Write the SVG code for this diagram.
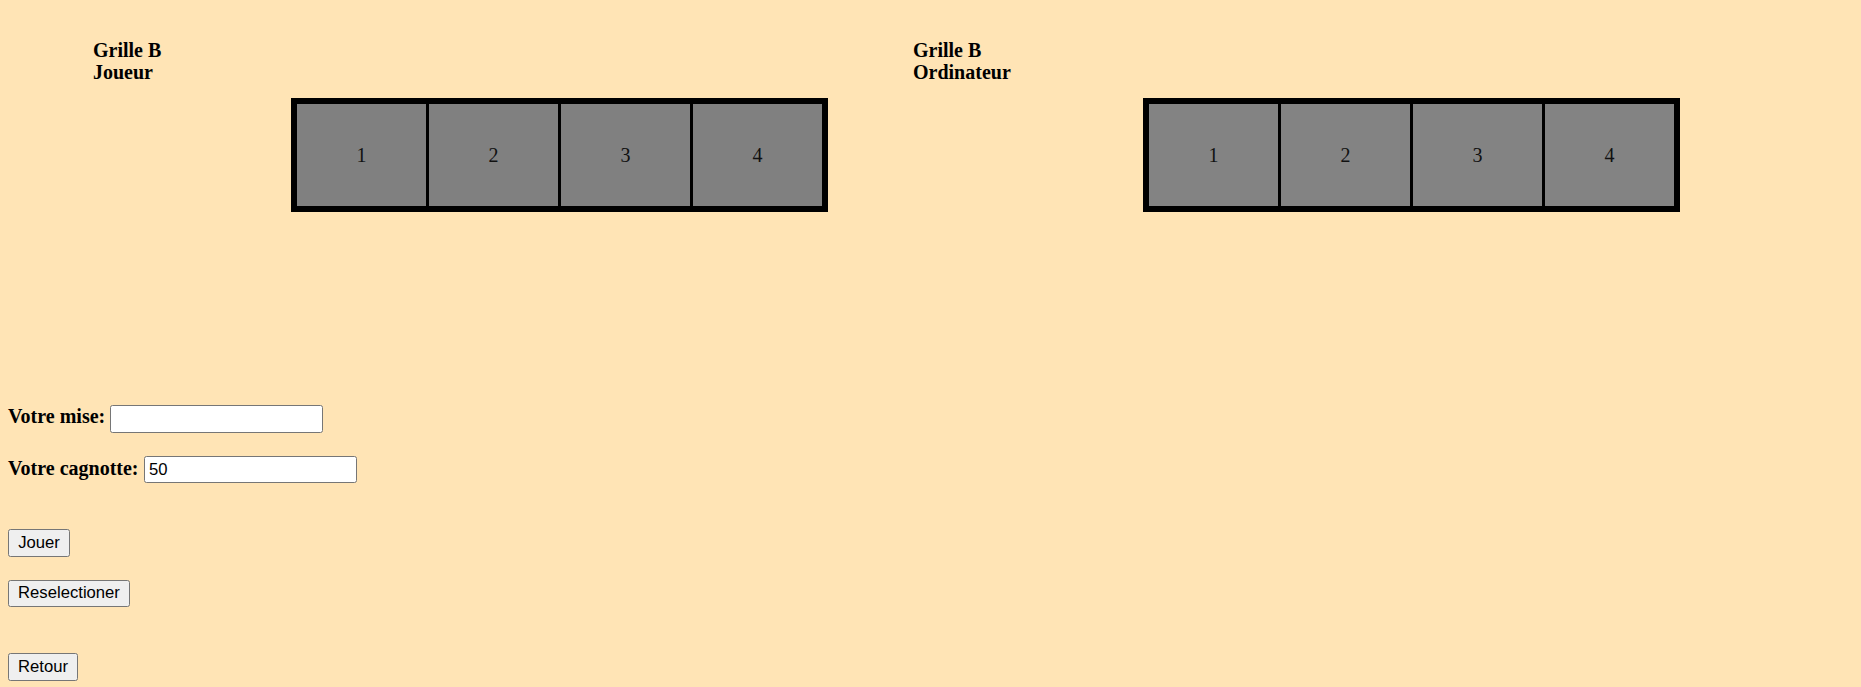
<svg xmlns="http://www.w3.org/2000/svg" width="1861" height="687" viewBox="0 0 1861 687">
<style>
.bg{fill:#FFE4B5}
.hdr{font-family:"Liberation Serif","Times New Roman",serif;font-weight:bold;font-size:20px;fill:#000}
.num{font-family:"Liberation Serif","Times New Roman",serif;font-size:20px;fill:#111;text-anchor:middle}
.frame{fill:#000}
.cell{fill:#808080}
.cellR{fill:#838383}
.inp{fill:#fff;stroke:#767676;stroke-width:1}
.btn{fill:#efefef;stroke:#767676;stroke-width:1}
.ui{font-family:"Liberation Sans",Arial,sans-serif;font-size:16.67px;fill:#000}
.bt{text-anchor:middle}
</style>
<rect class="bg" x="0" y="0" width="1861" height="687"/>

<g id="header-left">
<text class="hdr" x="93" y="57">Grille B</text>
<text class="hdr" x="93" y="79">Joueur</text>
</g>
<g id="header-right">
<text class="hdr" x="913" y="57">Grille B</text>
<text class="hdr" x="913" y="79">Ordinateur</text>
</g>

<g id="grid-joueur">
<rect class="frame" x="291" y="98" width="537" height="114"/>
<rect class="cell" x="297" y="104" width="129" height="102"/>
<rect class="cell" x="429" y="104" width="129" height="102"/>
<rect class="cell" x="561" y="104" width="129" height="102"/>
<rect class="cell" x="693" y="104" width="129" height="102"/>
<text class="num" x="361.5" y="161.5">1</text>
<text class="num" x="493.5" y="161.5">2</text>
<text class="num" x="625.5" y="161.5">3</text>
<text class="num" x="757.5" y="161.5">4</text>
</g>

<g id="grid-ordinateur">
<rect class="frame" x="1143" y="98" width="537" height="114"/>
<rect class="cellR" x="1149" y="104" width="129" height="102"/>
<rect class="cellR" x="1281" y="104" width="129" height="102"/>
<rect class="cellR" x="1413" y="104" width="129" height="102"/>
<rect class="cellR" x="1545" y="104" width="129" height="102"/>
<text class="num" x="1213.5" y="161.5">1</text>
<text class="num" x="1345.5" y="161.5">2</text>
<text class="num" x="1477.5" y="161.5">3</text>
<text class="num" x="1609.5" y="161.5">4</text>
</g>

<g id="mise">
<text class="hdr" x="8" y="423">Votre mise:</text>
<rect class="inp" x="110.5" y="405.5" width="212" height="27" rx="2"/>
</g>

<g id="cagnotte">
<text class="hdr" x="8" y="475">Votre cagnotte:</text>
<rect class="inp" x="144.5" y="456.5" width="212" height="26" rx="2"/>
<text class="ui" x="149" y="475">50</text>
</g>

<g id="btn-jouer">
<rect class="btn" x="8.5" y="529.5" width="61" height="27" rx="2"/>
<text class="ui bt" x="39" y="548">Jouer</text>
</g>

<g id="btn-reselectioner">
<rect class="btn" x="8.5" y="580.5" width="121" height="26" rx="2"/>
<text class="ui bt" x="69" y="598">Reselectioner</text>
</g>

<g id="btn-retour">
<rect class="btn" x="8.5" y="653.5" width="69" height="27" rx="2"/>
<text class="ui bt" x="43" y="672">Retour</text>
</g>
</svg>
